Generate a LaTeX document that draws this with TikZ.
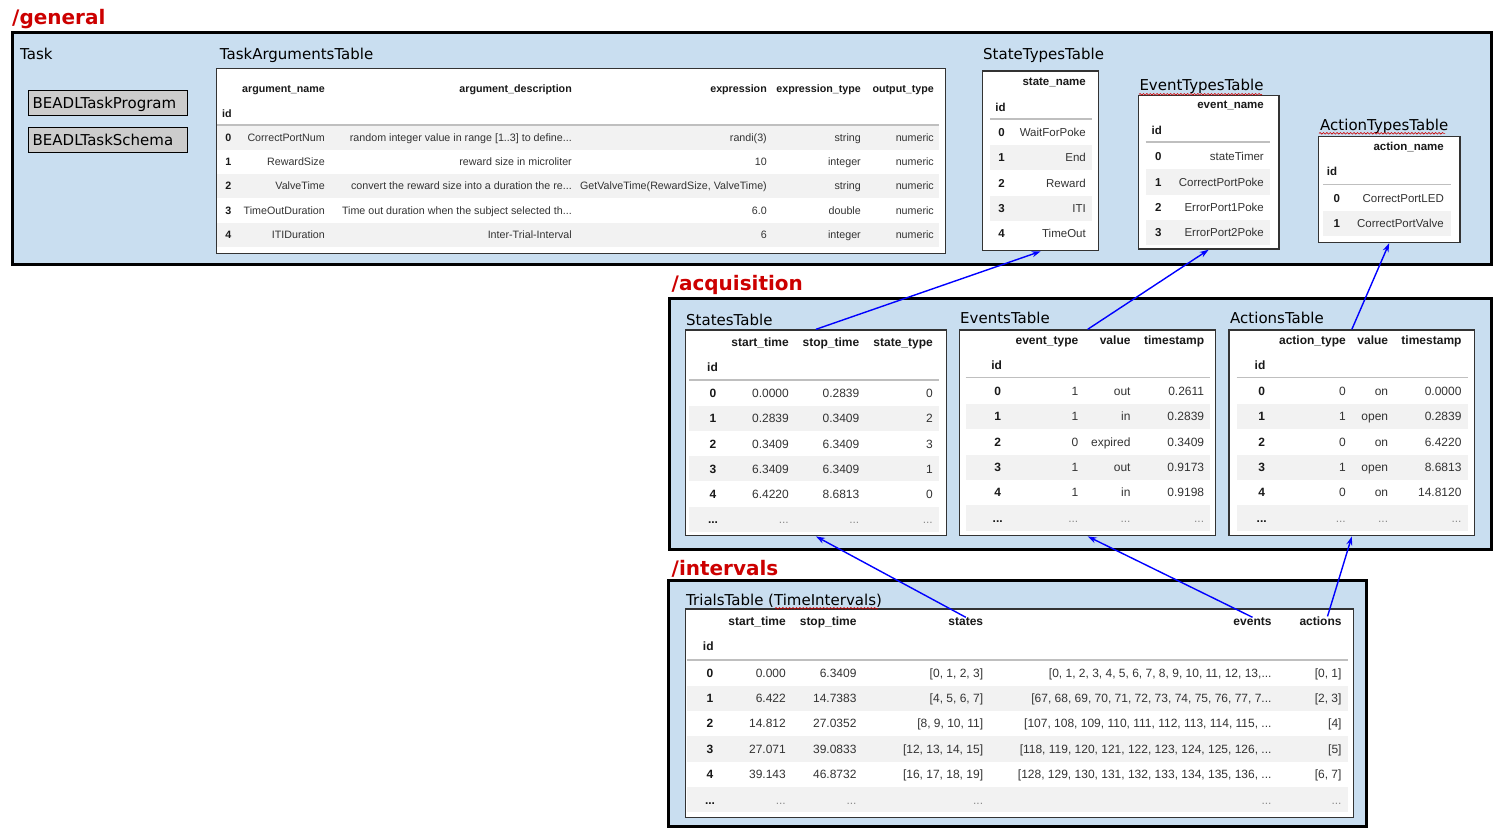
\documentclass[tikz,border=0pt]{standalone}
\usepackage{fontspec}
\setmainfont{DejaVu Sans}
\newfontfamily\tabfont{Liberation Sans}
\usetikzlibrary{arrows.meta,decorations.pathmorphing}

\definecolor{grpblue}{RGB}{201,222,240}
\definecolor{grpred}{RGB}{204,0,0}
\definecolor{rowgray}{RGB}{242,242,242}

\newcommand\trdots{...}

\tikzset{
    grp/.style={draw, line width=3pt, fill=grpblue},
    grptitle/.style={anchor=base west, inner sep=0pt, text=grpred,
        font=\fontsize{20}{24}\selectfont\bfseries},
    tbltitle/.style={anchor=base west, inner sep=0pt,
        font=\fontsize{15}{18}\selectfont},
    prog/.style={draw, line width=1.4pt, fill=black!20, anchor=north west,
        minimum height=25pt, text width=151pt, inner xsep=4pt, inner ysep=0pt,
        text height=10.9pt, text depth=0pt, font=\fontsize{15}{18}\selectfont},
    tbl/.style={draw=black!80, line width=1.4pt, fill=white, anchor=north west, inner sep=0pt},
    cell/.style={anchor=base east, inner sep=0pt, text=black!80, yshift={-0.358*#1pt},
        font=\tabfont\fontsize{#1}{#1}\selectfont},
    cell/.default=12,
    hd/.style={cell=#1, text=black!90, font=\tabfont\bfseries\fontsize{#1}{#1}\selectfont},
    hd/.default=12,
    idc/.style={hd=#1, anchor=base},
    idc/.default=12,
    dots/.style={cell=#1, text=black!45},
    dots/.default=12,
    rule/.style={draw=black!25, line width=1.3pt},
    stripe/.style={fill=rowgray},
    link/.style={draw=blue, line width=1.4pt, -{Stealth[length=9pt, width=6pt]}},
    squiggle/.style={draw=red!80!black, line width=0.6pt, decorate,
        decoration={snake, amplitude=0.8pt, segment length=3.4pt}}
}

\begin{document}
\begin{tikzpicture}[x=1pt, y=-1pt]
    \useasboundingbox (0,0) rectangle (1502,839);

    \draw[grp] (12,32.5) rectangle (1491,264);
    \draw[grp] (669,298) rectangle (1491,549.5);
    \draw[grp] (668.5,580.5) rectangle (1366.5,826.5);
    \node[grptitle] (t-general) at (12,24.5) {/general};
    \node[grptitle] (t-acquisition) at (671.5,290) {/acquisition};
    \node[grptitle] (t-intervals) at (671.5,575) {/intervals};

    \node[tbltitle] (t-task) at (20,59.3) {Task};
    \node[prog] (program) at (28,90) {BEADLTaskProgram};
    \node[prog] (schema) at (28,127) {BEADLTaskSchema};

    \node[tbltitle] (t-taskargs) at (219.7,59.3) {TaskArgumentsTable};
    \node[tbl, minimum width=729pt, minimum height=185pt] (taskargs) at (216,68) {};
    \foreach \y in {137.3,186.1,234.9}
        \fill[stripe] (217,\y-12.2) rectangle (939,\y+12.2);
    \draw[rule] (217,125) -- (939,125);
    \foreach \x/\h [count=\j] in {325/argument\_name, 572/argument\_description,
            767/expression, 861/expression\_type, 934/output\_type}
        \node[hd=10.7] (ta-h\j) at (\x,89) {\h};
    \node[idc=10.7] (ta-hid) at (227,113.3) {id};
    \foreach \i/\a/\b/\c/\d/\e in {
            0/CorrectPortNum/{random integer value in range [1..3] to define\trdots}/randi(3)/string/numeric,
            1/RewardSize/reward size in microliter/10/integer/numeric,
            2/ValveTime/convert the reward size into a duration the re\trdots/{GetValveTime(RewardSize, ValveTime)}/string/numeric,
            3/TimeOutDuration/Time out duration when the subject selected th\trdots/6.0/double/numeric,
            4/ITIDuration/Inter-Trial-Interval/6/integer/numeric} {
        \pgfmathsetmacro\y{137.3+24.4*\i}
        \node[idc=10.7] (ta-\i-0) at (228.3,\y) {\i};
        \node[cell=10.7] (ta-\i-1) at (325,\y) {\a};
        \node[cell=10.7] (ta-\i-2) at (572,\y) {\b};
        \node[cell=10.7] (ta-\i-3) at (767,\y) {\c};
        \node[cell=10.7] (ta-\i-4) at (861,\y) {\d};
        \node[cell=10.7] (ta-\i-5) at (934,\y) {\e};
    }

    \node[tbltitle] (t-statetypes) at (983,59.7) {StateTypesTable};
    \node[tbl, minimum width=116pt, minimum height=179.5pt] (statetypes) at (982,70.4) {};
    \foreach \y in {157.6,208.3}
        \fill[stripe] (990,\y-12.5) rectangle (1091.5,\y+12.5);
    \draw[rule] (990,119) -- (1091.5,119);
    \node[hd=11.5] (sty-h1) at (1086,81.3) {state\_name};
    \node[idc=11.5] (sty-hid) at (1000.5,107) {id};
    \foreach \i/\a in {0/WaitForPoke, 1/End, 2/Reward, 3/ITI, 4/TimeOut} {
        \pgfmathsetmacro\y{132.2+25.35*\i}
        \node[idc=11.5] (sty-\i-0) at (1001.5,\y) {\i};
        \node[cell=11.5] (sty-\i-1) at (1086,\y) {\a};
    }

    \node[tbltitle] (t-eventtypes) at (1139.3,90) {EventTypesTable};
    \node[tbl, minimum width=140.6pt, minimum height=153.3pt] (eventtypes) at (1137.7,95) {};
    \foreach \y in {181.9,232.3}
        \fill[stripe] (1145.7,\y-12.6) rectangle (1270,\y+12.6);
    \draw[rule] (1145.7,142) -- (1270,142);
    \node[hd=11.5] (ety-h1) at (1264,104.3) {event\_name};
    \node[idc=11.5] (ety-hid) at (1156.7,130) {id};
    \foreach \i/\a in {0/stateTimer, 1/CorrectPortPoke, 2/ErrorPort1Poke, 3/ErrorPort2Poke} {
        \pgfmathsetmacro\y{156.7+25.2*\i}
        \node[idc=11.5] (ety-\i-0) at (1158.3,\y) {\i};
        \node[cell=11.5] (ety-\i-1) at (1264,\y) {\a};
    }

    \node[tbltitle] (t-actiontypes) at (1320,130.7) {ActionTypesTable};
    \node[tbl, minimum width=141.6pt, minimum height=106pt] (actiontypes) at (1317.7,135.7) {};
    \fill[stripe] (1323,210.7) rectangle (1451,235.9);
    \draw[rule] (1323,184.3) -- (1451,184.3);
    \node[hd=11.5] (aty-h1) at (1444,146) {action\_name};
    \node[idc=11.5] (aty-hid) at (1332,171) {id};
    \foreach \i/\a in {0/CorrectPortLED, 1/CorrectPortValve} {
        \pgfmathsetmacro\y{198.3+25*\i}
        \node[idc=11.5] (aty-\i-0) at (1336.7,\y) {\i};
        \node[cell=11.5] (aty-\i-1) at (1444,\y) {\a};
    }

    \node[tbltitle] (t-states) at (686,325) {StatesTable};
    \node[tbl, minimum width=261.5pt, minimum height=205.7pt] (states) at (684.5,329.3) {};
    \foreach \y in {418.5,468.9,519.3}
        \fill[stripe] (689,\y-12.5) rectangle (939,\y+12.5);
    \draw[rule] (689,380) -- (939,380);
    \foreach \x/\h [count=\j] in {789/start\_time, 859.5/stop\_time, 933/state\_type}
        \node[hd] (st-h\j) at (\x,342) {\h};
    \node[idc] (st-hid) at (712.5,367) {id};
    \foreach \i/\a/\b/\c in {0/0.0000/0.2839/0, 1/0.2839/0.3409/2, 2/0.3409/6.3409/3,
            3/6.3409/6.3409/1, 4/6.4220/8.6813/0} {
        \pgfmathsetmacro\y{393.3+25.2*\i}
        \node[idc] (st-\i-0) at (713,\y) {\i};
        \node[cell] (st-\i-1) at (789,\y) {\a};
        \node[cell] (st-\i-2) at (859.5,\y) {\b};
        \node[cell] (st-\i-3) at (933,\y) {\c};
    }
    \node[idc] (st-5-0) at (713,519.3) {\trdots};
    \foreach \x [count=\j] in {789,859.5,933}
        \node[dots] (st-5-\j) at (\x,519.3) {\trdots};

    \node[tbltitle] (t-events) at (960,323.3) {EventsTable};
    \node[tbl, minimum width=256pt, minimum height=205.7pt] (events) at (959,329.3) {};
    \foreach \y in {416.4,467.2,518}
        \fill[stripe] (965.7,\y-12.6) rectangle (1210,\y+12.6);
    \draw[rule] (965.7,377.7) -- (1210,377.7);
    \foreach \x/\h [count=\j] in {1078.5/event\_type, 1130.7/value, 1204.3/timestamp}
        \node[hd] (ev-h\j) at (\x,340) {\h};
    \node[idc] (ev-hid) at (996.7,365) {id};
    \foreach \i/\a/\b/\c in {0/1/out/0.2611, 1/1/in/0.2839, 2/0/expired/0.3409,
            3/1/out/0.9173, 4/1/in/0.9198} {
        \pgfmathsetmacro\y{391+25.4*\i}
        \node[idc] (ev-\i-0) at (997.7,\y) {\i};
        \node[cell] (ev-\i-1) at (1078.5,\y) {\a};
        \node[cell] (ev-\i-2) at (1130.7,\y) {\b};
        \node[cell] (ev-\i-3) at (1204.3,\y) {\c};
    }
    \node[idc] (ev-5-0) at (997.7,518) {\trdots};
    \foreach \x [count=\j] in {1078.5,1130.7,1204.3}
        \node[dots] (ev-5-\j) at (\x,518) {\trdots};

    \node[tbltitle] (t-actions) at (1230,323.3) {ActionsTable};
    \node[tbl, minimum width=245.7pt, minimum height=205.7pt] (actions) at (1228.3,329.3) {};
    \foreach \y in {416.4,467.2,518}
        \fill[stripe] (1236.7,\y-12.6) rectangle (1468.3,\y+12.6);
    \draw[rule] (1236.7,377.7) -- (1468.3,377.7);
    \foreach \x/\h [count=\j] in {1346/action\_type, 1388.3/value, 1461.7/timestamp}
        \node[hd] (ac-h\j) at (\x,340) {\h};
    \node[idc] (ac-hid) at (1260,365) {id};
    \foreach \i/\a/\b/\c in {0/0/on/0.0000, 1/1/open/0.2839, 2/0/on/6.4220,
            3/1/open/8.6813, 4/0/on/14.8120} {
        \pgfmathsetmacro\y{391+25.4*\i}
        \node[idc] (ac-\i-0) at (1261.7,\y) {\i};
        \node[cell] (ac-\i-1) at (1346,\y) {\a};
        \node[cell] (ac-\i-2) at (1388.3,\y) {\b};
        \node[cell] (ac-\i-3) at (1461.7,\y) {\c};
    }
    \node[idc] (ac-5-0) at (1261.7,518) {\trdots};
    \foreach \x [count=\j] in {1346,1388.3,1461.7}
        \node[dots] (ac-5-\j) at (\x,518) {\trdots};

    \node[tbltitle] (t-trials) at (686,605.7) {TrialsTable (TimeIntervals)};
    \node[tbl, minimum width=667.7pt, minimum height=208.4pt] (trials) at (685,608.3) {};
    \foreach \y in {698.1,748.9,799.7}
        \fill[stripe] (686.7,\y-12.6) rectangle (1347.7,\y+12.6);
    \draw[rule] (686.7,660) -- (1347.7,660);
    \foreach \x/\h [count=\j] in {786/start\_time, 856.7/stop\_time, 983.3/states,
            1271.7/events, 1341.7/actions}
        \node[hd] (tr-h\j) at (\x,621) {\h};
    \node[idc] (tr-hid) at (708.3,645.7) {id};
    \foreach \i/\a/\b/\c/\d/\e in {
            0/0.000/6.3409/{[0, 1, 2, 3]}/{[0, 1, 2, 3, 4, 5, 6, 7, 8, 9, 10, 11, 12, 13,\trdots}/{[0, 1]},
            1/6.422/14.7383/{[4, 5, 6, 7]}/{[67, 68, 69, 70, 71, 72, 73, 74, 75, 76, 77, 7\trdots}/{[2, 3]},
            2/14.812/27.0352/{[8, 9, 10, 11]}/{[107, 108, 109, 110, 111, 112, 113, 114, 115, \trdots}/{[4]},
            3/27.071/39.0833/{[12, 13, 14, 15]}/{[118, 119, 120, 121, 122, 123, 124, 125, 126, \trdots}/{[5]},
            4/39.143/46.8732/{[16, 17, 18, 19]}/{[128, 129, 130, 131, 132, 133, 134, 135, 136, \trdots}/{[6, 7]}} {
        \pgfmathsetmacro\y{672.7+25.4*\i}
        \node[idc] (tr-\i-0) at (710,\y) {\i};
        \node[cell] (tr-\i-1) at (786,\y) {\a};
        \node[cell] (tr-\i-2) at (856.7,\y) {\b};
        \node[cell] (tr-\i-3) at (983.3,\y) {\c};
        \node[cell] (tr-\i-4) at (1271.7,\y) {\d};
        \node[cell] (tr-\i-5) at (1341.7,\y) {\e};
    }
    \node[idc] (tr-5-0) at (710,799.7) {\trdots};
    \foreach \x [count=\j] in {786,856.7,983.3,1271.7,1341.7}
        \node[dots] (tr-5-\j) at (\x,799.7) {\trdots};

    \draw[squiggle] (1139,94.3) -- (1262,94.3);
    \draw[squiggle] (1319,133.3) -- (1445,133.3);
    \draw[squiggle] (775,608.3) -- (878,608.3);

    \draw[link] (states.north) -- (statetypes.south);
    \draw[link] (events.north) -- (eventtypes.south);
    \draw[link] (actions.north) -- (actiontypes.south);
    \draw[link] (tr-h3.north) -- (states.south);
    \draw[link] (tr-h4.north) -- (events.south);
    \draw[link] ([xshift=7pt]tr-h5.north) -- (actions.south);
\end{tikzpicture}
\end{document}
